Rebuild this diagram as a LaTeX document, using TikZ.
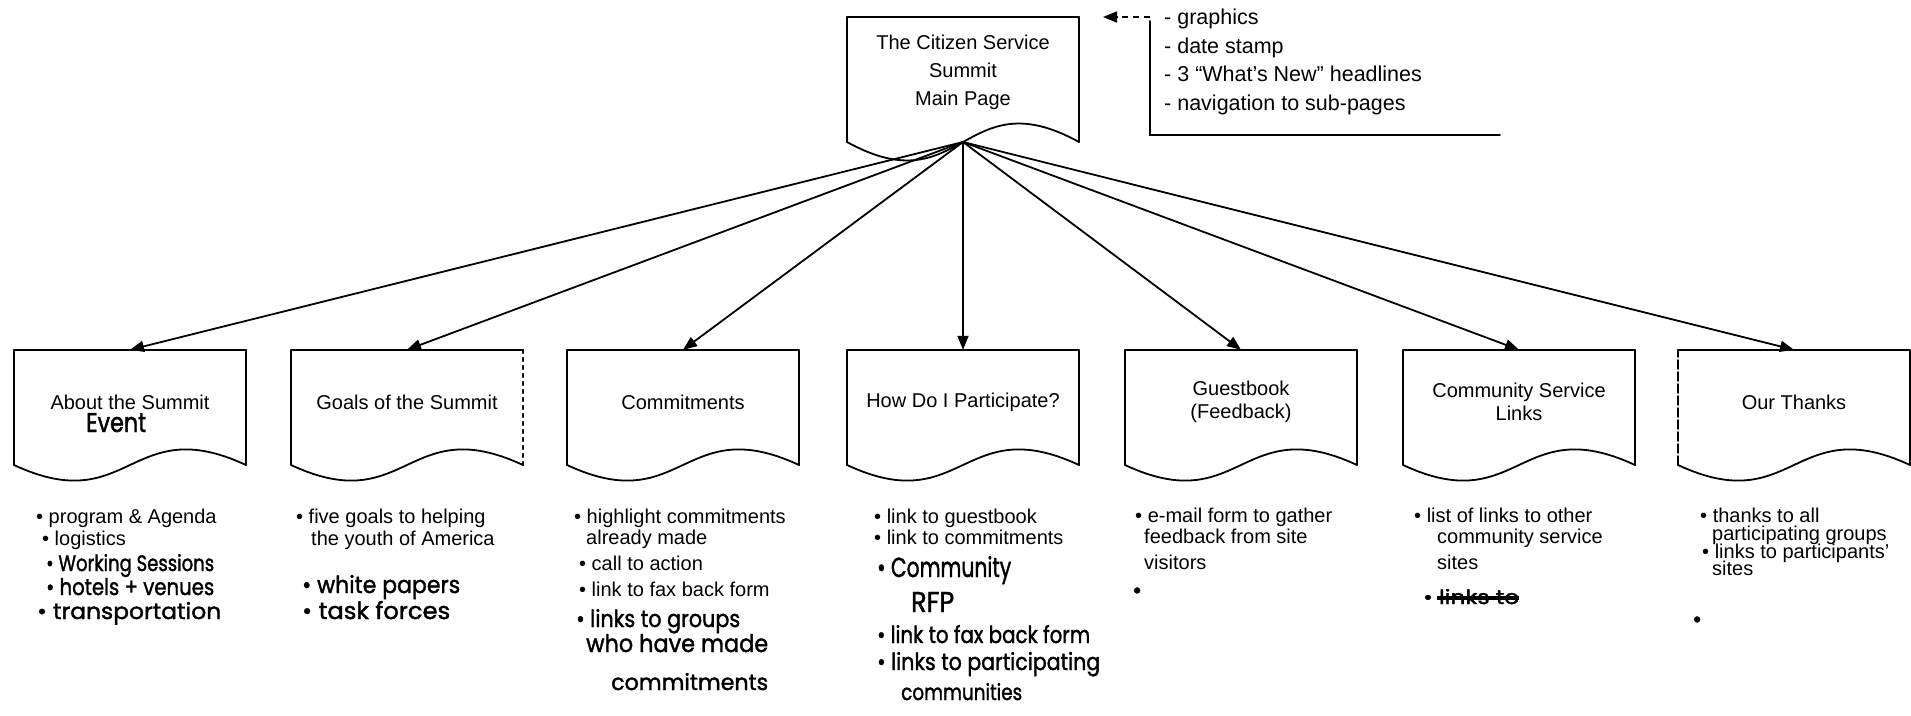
\documentclass[tikz,border=0pt]{standalone}
\usepackage{fontspec}
\usepackage{graphicx}
\setmainfont{Liberation Sans}
\newfontfamily\handfont{Poppins}[FakeBold=1.6]
\usetikzlibrary{arrows.meta}
\newcommand\hw[3]{\resizebox{#1pt}{#2pt}{\handfont #3}}
% L, top, width, side height, wave depth, left-edge style, right-edge style
\newcommand\docshape[7]{%
  \draw[docline,#6] (#1,#2+#4) -- (#1,#2);
  \draw[docline] (#1,#2) -- (#1+#3,#2);
  \draw[docline,#7] (#1+#3,#2) -- (#1+#3,#2+#4);
  \draw[docline] (#1+#3,#2+#4)
    .. controls (#1+#3/2,#2+#4-#5) and (#1+#3/2,#2+#4+#5) .. (#1,#2+#4);}
\begin{document}
\begin{tikzpicture}[x=1pt,y=-1pt,
  docline/.style={line width=1.8pt, line cap=round},
  conn/.style={line width=1.8pt, -{Triangle[length=14pt,width=11pt]}},
  ptxt/.style={font=\fontsize{20}{23}\selectfont, inner sep=0pt},
  item/.style={ptxt, anchor=west, text height=14pt, text depth=4pt},
  hitem/.style={anchor=base west, inner sep=0pt},
  docbox/.style={ptxt, align=center, minimum width=232pt, minimum height=104pt},
  hbullet/.style={anchor=west, inner sep=0pt, font=\handfont\fontsize{24}{24}\selectfont},
  dotedge/.style={dash pattern=on 3pt off 5pt, line width=2.4pt},
  dashedge/.style={dash pattern=on 9pt off 3pt}
]
\fill[white] (0,0) rectangle (1911,715);
\useasboundingbox (0,0) rectangle (1911,715);

% main page
\docshape{847}{17}{232}{125}{64}{}{}
\node[ptxt, align=center, font=\fontsize{20}{28}\selectfont] (main) at (963,72) {The Citizen Service\\Summit\\Main Page};
\coordinate (hub) at (963,142);

% callout
\node[ptxt, anchor=north west, align=left, font=\fontsize{21.5}{28.5}\selectfont] (notes) at (1164,9)
  {- graphics\\- date stamp\\- 3 “What’s New” headlines\\- navigation to sub-pages};
\coordinate (corner) at (1150,17);
\coordinate (ctip) at (1103,17);
\coordinate (cbot) at (1150,135);
\coordinate (cend) at (1500,135);
\draw[docline] (cend) -- (cbot) -- ([yshift=-4pt]corner);
\draw[conn, dash pattern=on 6pt off 5pt] (corner) -- (ctip);

% child pages
\docshape{14}{350}{232}{115}{54}{}{}
\docshape{291}{350}{232}{115}{54}{}{dotedge}
\docshape{567}{350}{232}{115}{54}{}{}
\docshape{847}{350}{232}{115}{54}{}{}
\docshape{1125}{350}{232}{115}{54}{}{}
\docshape{1403}{350}{232}{115}{54}{}{}
\docshape{1678}{350}{232}{115}{54}{dashedge}{}

\node[docbox] (b1) at (130,402) {About the Summit};
\node[docbox] (b2) at (407,402) {Goals of the Summit};
\node[docbox] (b3) at (683,402) {Commitments};
\node[docbox] (b4) at (963,402) {How Do I Participate?};
\node[docbox] (b5) at (1241,402) {Guestbook\\(Feedback)};
\node[docbox] (b6) at (1519,402) {Community Service\\Links};
\node[docbox] (b7) at (1794,402) {Our Thanks};
\node[hitem] (ev) at (86,432) {\hw{60}{19}{Event}};

\foreach \b in {b1,b2,b3,b4,b5,b6,b7}
  \draw[conn] (hub) -- (\b.north);

% lists
\node[item] (l1a) at (36,518) {• program \& Agenda};
\node[item] (l1b) at (42,540) {• logistics};
\node[hitem] (h1a) at (46,571) {\hw{168}{17}{• Working Sessions}};
\node[hitem] (h1b) at (46,595) {\hw{168}{17}{• hotels + venues}};
\node[hitem] (h1c) at (37,619) {\hw{184}{17}{• transportation}};

\node[item] (l2a) at (296,518) {• five goals to helping};
\node[item] (l2b) at (311,540) {the youth of America};
\node[hitem] (h2a) at (302,593) {\hw{158}{18}{• white papers}};
\node[hitem] (h2b) at (302,619) {\hw{148}{18}{• task forces}};

\node[item] (l3a) at (574,518) {• highlight commitments};
\node[item] (l3b) at (586,539) {already made};
\node[item] (l3c) at (579,565) {• call to action};
\node[item] (l3d) at (579,591) {• link to fax back form};
\node[hitem] (h3a) at (576,627) {\hw{164}{18}{• links to groups}};
\node[hitem] (h3b) at (586,652) {\hw{182}{18}{who have made}};
\node[hitem] (h3c) at (611,690) {\hw{157}{17}{commitments}};

\node[item] (l4a) at (874,518) {• link to guestbook};
\node[item] (l4b) at (874,539) {• link to commitments};
\node[hitem] (h4a) at (877,577) {\hw{134}{21}{• Community}};
\node[hitem] (h4b) at (911,612) {\hw{43}{20}{RFP}};
\node[hitem] (h4c) at (877,643) {\hw{213}{18}{• link to fax back form}};
\node[hitem] (h4d) at (877,670) {\hw{223}{18}{• links to participating}};
\node[hitem] (h4e) at (901,700) {\hw{121}{17}{communities}};

\node[item] (l5a) at (1135,517) {• e-mail form to gather};
\node[item] (l5b) at (1144,538) {feedback from site};
\node[item] (l5c) at (1144,564) {visitors};
\node[hbullet] (h5a) at (1132,593) {•};

\node[item] (l6a) at (1414,517) {• list of links to other};
\node[item] (l6b) at (1437,538) {community service};
\node[item] (l6c) at (1437,564) {sites};
\node[hitem] (h6a) at (1423,604) {\hw{96}{15}{• links to}};
\draw[line width=3.5pt] ([xshift=14pt,yshift=6pt]h6a.base west) -- ([yshift=6pt]h6a.base east);

\node[item] (l7a) at (1700,517) {• thanks to all};
\node[item] (l7b) at (1712,535) {participating groups};
\node[item] (l7c) at (1702,553) {• links to participants’};
\node[item] (l7d) at (1712,570) {sites};
\node[hbullet] (h7a) at (1692,622) {•};
\end{tikzpicture}
\end{document}
